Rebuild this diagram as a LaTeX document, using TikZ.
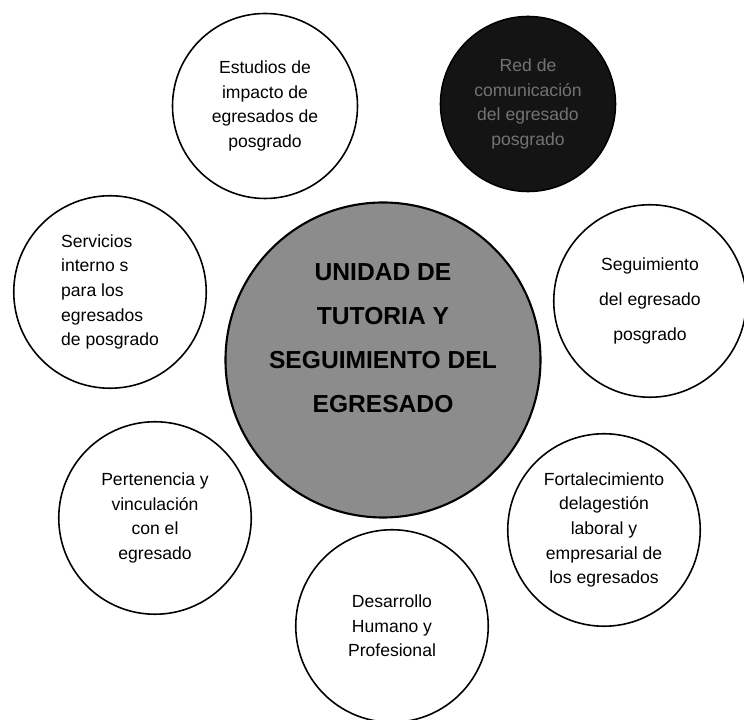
\documentclass[tikz,border=0pt]{standalone}
\usepackage{fontspec}
\setmainfont{Liberation Sans}
\usepackage{tikz}

\begin{document}
\begin{tikzpicture}[
    bubble/.style={circle,draw=black,line width=0.9pt,fill=white,inner sep=0pt,
        minimum size=3.85cm,align=center,font=\fontsize{10}{14}\selectfont},
    darkbubble/.style={bubble,fill=black!92,text=black!55,minimum size=3.5cm},
    hub/.style={circle,draw=black,line width=1.2pt,fill=black!45,inner sep=0pt,
        minimum size=6.3cm},
    hubtext/.style={align=center,font=\fontsize{14}{25}\selectfont\bfseries}
]
                \useasboundingbox (0,0) rectangle (14.88,14.4);
                % central unit
                \node[hub] (U) at (7.66,7.2) {};
                \node[hubtext] (Ut) at ([yshift=0.44cm]U.center) {UNIDAD DE\\TUTORIA Y\\SEGUIMIENTO DEL\\EGRESADO};
                % surrounding circles
                \node[bubble,minimum size=3.7cm] (E) at (5.30,12.28) {Estudios de\\impacto de\\egresados de\\posgrado};
                \node[darkbubble] (R) at (10.56,12.32) {Red de\\comunicación\\del egresado\\posgrado};
                \node[bubble,font=\fontsize{10}{20}\selectfont] (S) at (13.0,8.38) {Seguimiento\\del egresado\\posgrado};
                \node[bubble,align=left] (I) at (2.2,8.56) {Servicios\\interno s\\para los\\egresados\\de posgrado};
                \node[bubble] (P) at (3.1,4.04) {Pertenencia y\\vinculación\\con el\\egresado};
                \node[bubble] (F) at (12.08,3.8) {Fortalecimiento\\delagestión\\laboral y\\empresarial de\\los egresados};
                \node[bubble] (D) at (7.84,1.88) {Desarrollo\\Humano y\\Profesional};
            \end{tikzpicture}
\end{document}
